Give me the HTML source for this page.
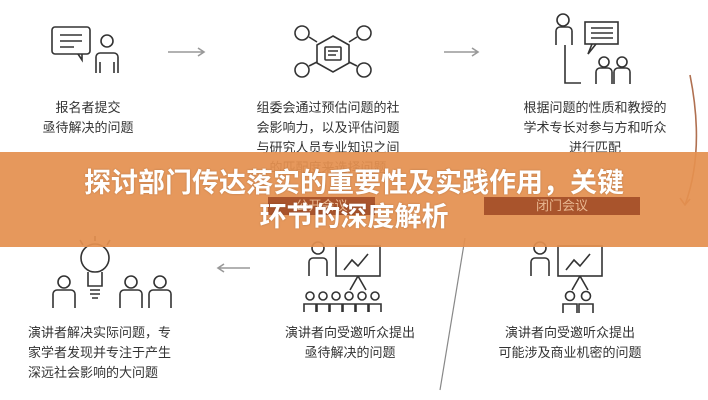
<!DOCTYPE html>
<html><head><meta charset="utf-8"><style>
*{margin:0;padding:0}
body{width:708px;height:400px;background:#fff;position:relative;overflow:hidden;font-family:"Liberation Sans","Noto Sans CJK SC",sans-serif;color:#333}
.t{position:absolute;font-size:13px;line-height:20px;text-align:center;white-space:nowrap}
svg{position:absolute;left:0;top:0}
.banner{position:absolute;left:0;top:152px;width:708px;height:95px;background:rgba(228,144,80,0.93)}
.title{position:absolute;left:0;width:708px;text-align:center;color:#fff;font-weight:bold;font-size:27px;line-height:34px;top:166px;text-shadow:0 0 2px rgba(0,0,0,.2)}
.lab{position:absolute;background:#a9542c;color:#e9b891;font-size:13px;text-align:center;line-height:18px}
</style></head><body>
<svg width="708" height="400" fill="none" stroke="#333" stroke-width="1.6">
<!-- top left icon -->
<rect x="52" y="27" width="38" height="27" rx="3"/><path d="M78 54 L82 60 L82 54"/>
<path d="M60 35h22M60 41h22M60 47h14"/>
<circle cx="107" cy="41" r="6"/><path d="M96 73v-16a4 4 0 0 1 4-4h14a4 4 0 0 1 4 4v16M100 62v11M114 62v11"/>
<path d="M168 52h36M198 48l6 4-6 4" stroke="#999"/>
<!-- top middle hex -->
<polygon points="333,36 349,45 349,63 333,72 317,63 317,45"/>
<rect x="325" y="47" width="16" height="13" rx="1"/><path d="M328 51h10M328 55h8"/>
<circle cx="302" cy="33" r="7"/><circle cx="364" cy="33" r="7"/><circle cx="302" cy="70" r="7"/><circle cx="364" cy="70" r="7"/>
<path d="M309 37l8 5M357 37l-8 5M309 66l8-4M357 66l-8-4"/>
<path d="M444 52h34M472 48l6 4-6 4" stroke="#999"/>
<!-- top right -->
<circle cx="563" cy="20" r="6"/><path d="M556 45v-14a4 4 0 0 1 4-4h8a4 4 0 0 1 4 4v14"/>
<path d="M565 45v38h16"/>
<rect x="585" y="22" width="33" height="22"/><path d="M591 28h22M591 33h22M591 38h22M592 44l-4 10 8-10"/>
<circle cx="604" cy="62" r="5"/><circle cx="622" cy="62" r="5"/>
<path d="M596 84v-12a4 4 0 0 1 4-4h8a4 4 0 0 1 4 4v12M614 84v-12a4 4 0 0 1 4-4h8a4 4 0 0 1 4 4v12"/>
<!-- curved right arrow -->
<path d="M690 75 Q705 150 685 205" stroke="#b07050"/><path d="M680 198l5 7 5-6" stroke="#b07050"/>
<!-- bottom left -->
<circle cx="95" cy="258" r="14"/><path d="M88 272v14h14v-14M90 290h10M90 294h10M92 298h6"/>
<path d="M80 240l3 5M95 236v5M110 240l-3 5"/>
<circle cx="64" cy="282" r="6"/><path d="M53 308v-14a4 4 0 0 1 4-4h14a4 4 0 0 1 4 4v14"/>
<circle cx="131" cy="282" r="6"/><circle cx="160" cy="282" r="6"/>
<path d="M120 308v-14a4 4 0 0 1 4-4h14a4 4 0 0 1 4 4v14M149 308v-14a4 4 0 0 1 4-4h14a4 4 0 0 1 4 4v14"/>
<path d="M250 268h-32M224 264l-6 4 6 4" stroke="#999"/>
<!-- bottom middle -->
<rect x="336" y="246" width="44" height="30"/><path d="M344 270l8-10 6 6 10-12"/><path d="M358 276l-8 14M358 276l8 14"/>
<circle cx="318" cy="248" r="6"/><path d="M309 276v-14a4 4 0 0 1 4-4h10a4 4 0 0 1 4 4v14"/>
<g>
<circle cx="310" cy="296" r="4"/><circle cx="323" cy="296" r="4"/><circle cx="336" cy="296" r="4"/><circle cx="349" cy="296" r="4"/><circle cx="362" cy="296" r="4"/><circle cx="375" cy="296" r="4"/>
<path d="M304 312v-8h12v8M317 312v-8h12v8M330 312v-8h12v8M343 312v-8h12v8M356 312v-8h12v8M369 312v-8h12v8"/>
</g>
<path d="M465 238 L440 390" stroke="#888" stroke-width="1.2"/>
<!-- bottom right -->
<rect x="558" y="246" width="44" height="30"/><path d="M566 270l8-10 6 6 10-12"/><path d="M580 276l-8 14M580 276l8 14"/>
<circle cx="540" cy="248" r="6"/><path d="M531 276v-14a4 4 0 0 1 4-4h10a4 4 0 0 1 4 4v14"/>
<circle cx="570" cy="296" r="4.5"/><circle cx="586" cy="296" r="4.5"/>
<path d="M563 313v-9h14v9M579 313v-9h14v9"/>
</svg>
<div class="t" style="left:28px;top:98px;width:120px">报名者提交<br>亟待解决的问题</div>
<div class="t" style="left:238px;top:98px;width:180px">组委会通过预估问题的社<br>会影响力，以及评估问题<br>与研究人员专业知识之间<br>的匹配度来选择问题</div>
<div class="t" style="left:505px;top:98px;width:180px">根据问题的性质和教授的<br>学术专长对参与方和听众<br>进行匹配</div>
<div class="banner"></div>
<div class="lab" style="left:268px;top:197px;width:107px">公开会议</div>
<div class="lab" style="left:484px;top:197px;width:156px">闭门会议</div>
<div class="title">探讨部门传达落实的重要性及实践作用，关键<br>环节的深度解析</div>
<div class="t" style="left:18px;top:323px;width:190px;text-align:left;padding-left:10px">演讲者解决实际问题，专<br>家学者发现并专注于产生<br>深远社会影响的大问题</div>
<div class="t" style="left:260px;top:323px;width:180px">演讲者向受邀听众提出<br>亟待解决的问题</div>
<div class="t" style="left:480px;top:323px;width:180px">演讲者向受邀听众提出<br>可能涉及商业机密的问题</div>
</body></html>
